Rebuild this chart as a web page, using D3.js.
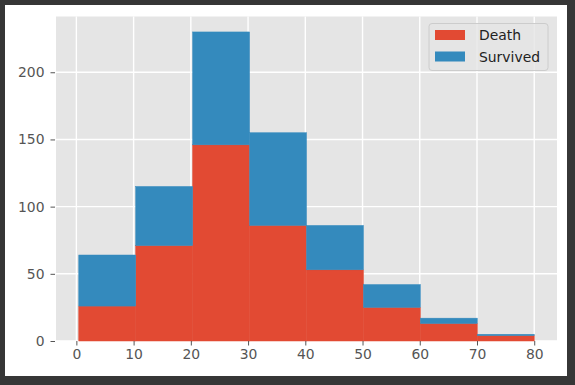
<!DOCTYPE html>
<meta charset="utf-8">
<script src="https://d3js.org/d3.v7.min.js"></script>
<style>
  body { margin: 0; background: #363636; }
  text { font-family: "DejaVu Sans", sans-serif; }
</style>
<div id="chart"></div>
<script>

// histogram bins (edges) and counts per bin
var binEdges = [0.42, 10.3675, 20.315, 30.2625, 40.21, 50.1575, 60.105, 70.0525, 80];
var death    = [26, 71, 146, 86, 53, 25, 13, 4];
var survived = [38, 44, 84, 69, 33, 17, 4, 1];
var seriesNames = ["Death", "Survived"];
var xTicks = [0, 10, 20, 30, 40, 50, 60, 70, 80];
var yTicks = [0, 50, 100, 150, 200];

var W = 575, H = 385;
var plot = {left: 56, right: 557, top: 16.5, bottom: 341};
var colors = ["#E24A33", "#348ABD"];

var svg = d3.select("#chart").append("svg")
    .attr("width", W)
    .attr("height", H);

// white figure area inside the dark frame
svg.append("rect")
    .attr("x", 5).attr("y", 5)
    .attr("width", 562).attr("height", 371)
    .attr("fill", "#ffffff");

// build rows for the stack
var rows = death.map(function(d, i) {
  return {x0: binEdges[i], x1: binEdges[i + 1], Death: d, Survived: survived[i]};
});
var stacked = d3.stack().keys(seriesNames)(rows);

var x = d3.scaleLinear()
    .domain([-3.559, 83.979])
    .range([plot.left, plot.right]);

var ymax = d3.max(stacked[1], function(d) { return d[1]; });
var y = d3.scaleLinear()
    .domain([0, ymax * 1.05])
    .range([plot.bottom, plot.top]);

// axes background
svg.append("rect")
    .attr("x", plot.left).attr("y", plot.top)
    .attr("width", plot.right - plot.left)
    .attr("height", plot.bottom - plot.top)
    .attr("fill", "#E5E5E5");

// grid
var grid = svg.append("g").attr("stroke", "#ffffff").attr("stroke-width", 1.4);
grid.selectAll(".gx").data(xTicks).enter().append("line")
    .attr("x1", function(d) { return x(d); })
    .attr("x2", function(d) { return x(d); })
    .attr("y1", plot.top).attr("y2", plot.bottom);
grid.selectAll(".gy").data(yTicks).enter().append("line")
    .attr("y1", function(d) { return y(d); })
    .attr("y2", function(d) { return y(d); })
    .attr("x1", plot.left).attr("x2", plot.right);

// bars (thin same-colour stroke hides seams between neighbours)
svg.append("g")
  .selectAll("g")
  .data(stacked)
  .enter().append("g")
    .attr("fill", function(d, i) { return colors[i]; })
    .attr("stroke", function(d, i) { return colors[i]; })
    .attr("stroke-width", 0.5)
  .selectAll("rect")
  .data(function(d) { return d; })
  .enter().append("rect")
    .attr("x", function(d) { return x(d.data.x0); })
    .attr("width", function(d) { return x(d.data.x1) - x(d.data.x0); })
    .attr("y", function(d) { return y(d[1]); })
    .attr("height", function(d) { return y(d[0]) - y(d[1]); });

// x axis
var xAxis = svg.append("g")
    .attr("transform", "translate(0," + plot.bottom + ")")
    .call(d3.axisBottom(x).tickValues(xTicks).tickSize(4.5).tickPadding(4));
xAxis.select(".domain").remove();
xAxis.selectAll(".tick line").attr("stroke", "#555555").attr("stroke-width", 1);
xAxis.selectAll(".tick text")
    .attr("fill", "#555555")
    .style("font-size", "13.9px")
    .style("font-family", "DejaVu Sans");

// y axis
var yAxis = svg.append("g")
    .attr("transform", "translate(" + (plot.left - 1) + ",0)")
    .call(d3.axisLeft(y).tickValues(yTicks).tickSize(4.5).tickPadding(6));
yAxis.select(".domain").remove();
yAxis.selectAll(".tick line").attr("stroke", "#555555").attr("stroke-width", 1);
yAxis.selectAll(".tick text")
    .attr("fill", "#555555")
    .style("font-size", "13.9px")
    .style("font-family", "DejaVu Sans");

// legend
var legend = svg.append("g").attr("transform", "translate(429,23.5)");
legend.append("rect")
    .attr("width", 119).attr("height", 47)
    .attr("rx", 3)
    .attr("fill", "#E5E5E5").attr("fill-opacity", 0.8)
    .attr("stroke", "#cccccc").attr("stroke-width", 1);
var items = legend.selectAll(".item").data(seriesNames).enter().append("g")
    .attr("transform", function(d, i) { return "translate(6," + (6.5 + i * 21.5) + ")"; });
items.append("rect")
    .attr("width", 30).attr("height", 10)
    .attr("fill", function(d, i) { return colors[i]; });
items.append("text")
    .attr("x", 44).attr("y", 5)
    .attr("dy", "0.36em")
    .attr("fill", "#222222")
    .style("font-size", "13.9px")
    .text(function(d) { return d; });

</script>
